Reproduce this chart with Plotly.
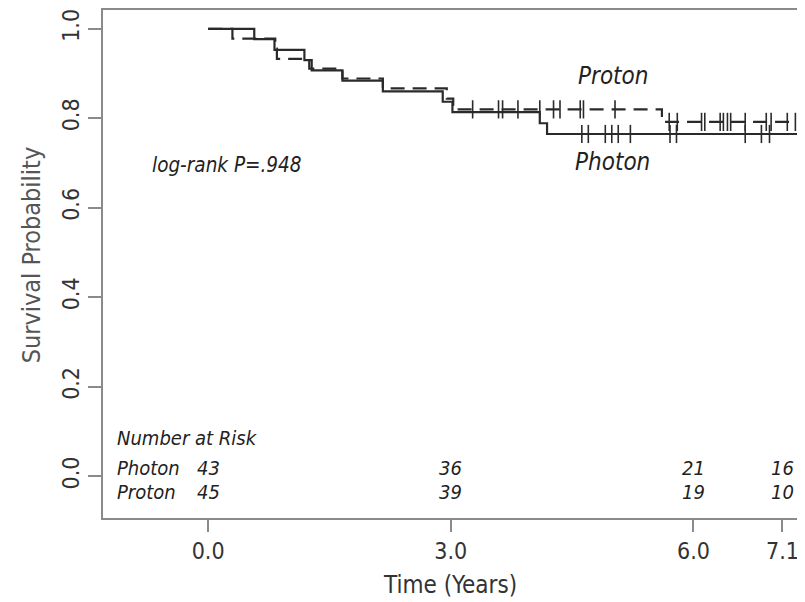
import plotly.graph_objects as go

# ---- data ----
photon_event_times = [0.57, 0.82, 1.19, 1.28, 1.66, 2.16, 2.90, 3.02, 4.10, 4.19]
photon_surv = [0.977, 0.953, 0.930, 0.907, 0.884, 0.860, 0.837, 0.814, 0.789, 0.765]
photon_censor_times = [4.62, 4.70, 4.91, 4.99, 5.07, 5.22, 5.71, 5.79, 6.64, 6.84, 6.94]

proton_event_times = [0.30, 0.83, 0.85, 1.25, 1.66, 2.16, 2.95, 3.03, 5.61]
proton_surv = [0.978, 0.956, 0.933, 0.911, 0.889, 0.867, 0.844, 0.820, 0.792]
proton_censor_times = [3.27, 3.59, 3.64, 3.83, 4.10, 4.27, 4.35, 4.60, 4.64, 5.03,
                       5.70, 5.80, 6.10, 6.14, 6.33, 6.37, 6.42, 6.46, 6.64, 6.90,
                       6.96, 7.16, 7.26]

follow_up_end = 7.28
risk_times = [0.0, 3.0, 6.0, 7.1]
photon_at_risk = [43, 36, 21, 16]
proton_at_risk = [45, 39, 19, 10]
x_tick_vals = [0.0, 3.0, 6.0, 7.1]
x_tick_text = ["0.0", "3.0", "6.0", "7.1"]
y_tick_vals = [0.0, 0.2, 0.4, 0.6, 0.8, 1.0]
y_tick_text = ["0.0", "0.2", "0.4", "0.6", "0.8", "1.0"]

FONT = "DejaVu Sans Condensed, DejaVu Sans, sans-serif"
LINE = "#2a2a2a"
AXIS = "#8a8a8a"


def surv_at(t, times, surv):
    s = 1.0
    for ti, si in zip(times, surv):
        if ti <= t:
            s = si
    return s


fig = go.Figure()

for times, surv, cens, dash in [
    (photon_event_times, photon_surv, photon_censor_times, "solid"),
    (proton_event_times, proton_surv, proton_censor_times, "14px,8px"),
]:
    fig.add_trace(go.Scatter(
        x=[0.0] + times + [follow_up_end],
        y=[1.0] + surv + [surv[-1]],
        mode="lines", line=dict(shape="hv", color=LINE, width=2.2, dash=dash),
        showlegend=False, hoverinfo="skip"))
    fig.add_trace(go.Scatter(
        x=cens, y=[surv_at(t, times, surv) for t in cens],
        mode="markers",
        marker=dict(symbol="line-ns", size=13, line=dict(color=LINE, width=1.6)),
        showlegend=False, hoverinfo="skip"))

ann = []
txt = dict(family=FONT, color="#222", size=20)
big = dict(family=FONT, color="#222", size=24)
ann.append(dict(x=5.0, y=0.895, text="<i>Proton</i>", showarrow=False, font=big))
ann.append(dict(x=5.0, y=0.702, text="<i>Photon</i>", showarrow=False, font=big))
ann.append(dict(x=-0.72, y=0.695, text="<i>log-rank P=.948</i>", showarrow=False,
                xanchor="left", font=dict(family=FONT, color="#222", size=20.5)))
ann.append(dict(x=-1.15, y=0.085, text="<i>Number at Risk</i>", showarrow=False,
                xanchor="left", font=txt))
ann.append(dict(x=-1.15, y=0.018, text="<i>Photon</i>", showarrow=False,
                xanchor="left", font=txt))
ann.append(dict(x=-1.15, y=-0.035, text="<i>Proton</i>", showarrow=False,
                xanchor="left", font=txt))
for t, a, b in zip(risk_times, photon_at_risk, proton_at_risk):
    ann.append(dict(x=t, y=0.018, text=f"<i>{a}</i>", showarrow=False, font=txt))
    ann.append(dict(x=t, y=-0.035, text=f"<i>{b}</i>", showarrow=False, font=txt))

# axis titles
ann.append(dict(xref="paper", yref="paper", x=0.5, y=-0.132, yanchor="middle",
                text="Time (Years)", showarrow=False,
                font=dict(size=24, family=FONT, color="#333")))
ann.append(dict(xref="paper", yref="paper", x=-0.103, y=0.518, xanchor="center",
                yanchor="middle", textangle=-90, text="Survival Probability",
                showarrow=False, font=dict(size=25, family=FONT, color="#555")))

# the page body has an 8px margin, so the figure is 8px smaller and margins are shifted
fig.update_layout(
    width=797, height=594,
    margin=dict(l=95, r=8, t=2, b=84, autoexpand=False),
    paper_bgcolor="white", plot_bgcolor="white",
    annotations=ann,
    font=dict(family=FONT, color="#333"),
    xaxis=dict(range=[-1.30, 7.28], tickvals=x_tick_vals, ticktext=x_tick_text,
               automargin=False,
               showgrid=False, zeroline=False, showline=True, mirror=True,
               linecolor=AXIS, linewidth=1.5, ticks="outside", ticklen=12,
               tickcolor=AXIS, tickwidth=1.5,
               tickfont=dict(size=23, family=FONT, color="#333")),
    yaxis=dict(range=[-0.093, 1.042], tickvals=y_tick_vals, ticktext=y_tick_text,
               automargin=False,
               showgrid=False, zeroline=False, showline=True, mirror=True,
               linecolor=AXIS, linewidth=1.5, ticks="outside", ticklen=13,
               tickcolor=AXIS, tickwidth=1.5, tickangle=-90,
               tickfont=dict(size=23, family=FONT, color="#333")),
)

fig.write_html("out.html")
